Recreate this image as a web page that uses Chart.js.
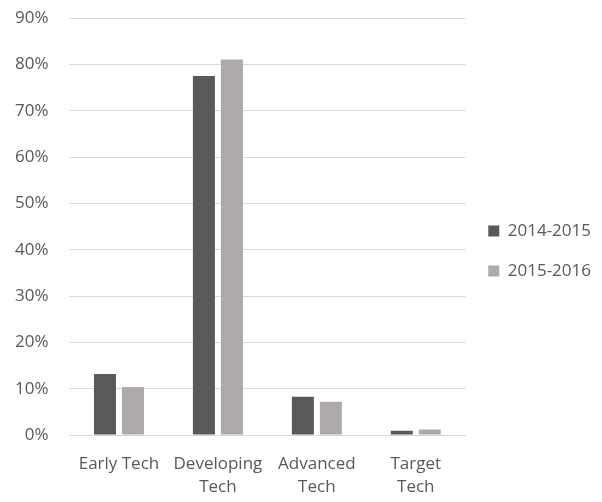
<!DOCTYPE html>
<html>
<head>
<meta charset="utf-8">
<script src="https://cdn.jsdelivr.net/npm/chart.js@4"></script>
<style>
  html, body { margin: 0; padding: 0; background: #fff; }
  #wrap { width: 602px; height: 502px; }
</style>
</head>
<body>
<div id="wrap"><canvas id="techChart" width="602" height="502"></canvas></div>
<script>
// Categories and series (percent)
const categories = [['Early Tech'], ['Developing', 'Tech'], ['Advanced', 'Tech'], ['Target', 'Tech']];
const seriesNames = ['2014-2015', '2015-2016'];
const values2014 = [13.2, 77.5, 8.3, 0.95];
const values2015 = [10.4, 81.1, 7.2, 1.2];
const yTicks = [0, 10, 20, 30, 40, 50, 60, 70, 80, 90];

const textColor = '#595959';
const fontFamily = '"Open Sans", sans-serif';

var ctx = document.getElementById('techChart').getContext('2d');
var techChart = new Chart(ctx, {
    type: 'bar',
    data: {
        labels: categories,
        datasets: [{
            label: seriesNames[0],
            data: values2014,
            backgroundColor: '#595959',
            categoryPercentage: 0.566,
            barPercentage: 0.786
        }, {
            label: seriesNames[1],
            data: values2015,
            backgroundColor: '#aeaaaa',
            categoryPercentage: 0.566,
            barPercentage: 0.786
        }]
    },
    options: {
        responsive: false,
        animation: false,
        layout: {
            padding: { top: -14, right: 1, bottom: -14, left: 7 }
        },
        plugins: {
            tooltip: { enabled: false },
            legend: {
                position: 'right',
                labels: {
                    color: textColor,
                    font: { family: fontFamily, size: 17 },
                    boxWidth: 11,
                    boxHeight: 11,
                    padding: 23
                }
            }
        },
        scales: {
            x: {
                grid: { display: false, drawTicks: false },
                border: { display: true, color: '#d9d9d9' },
                ticks: {
                    color: textColor,
                    font: { family: fontFamily, size: 17, lineHeight: 1.38 },
                    maxRotation: 0,
                    autoSkip: false,
                    padding: 17
                }
            },
            y: {
                min: 0,
                max: 90,
                afterBuildTicks: axis => {
                    axis.ticks = yTicks.map(v => ({ value: v }));
                },
                grid: { color: '#d9d9d9', drawTicks: true, tickLength: 13, tickColor: 'rgba(0,0,0,0)', lineWidth: 1 },
                border: { display: false },
                ticks: {
                    color: textColor,
                    font: { family: fontFamily, size: 17 },
                    padding: 8,
                    callback: v => v + '%'
                }
            }
        }
    }
});
</script>
</body>
</html>
